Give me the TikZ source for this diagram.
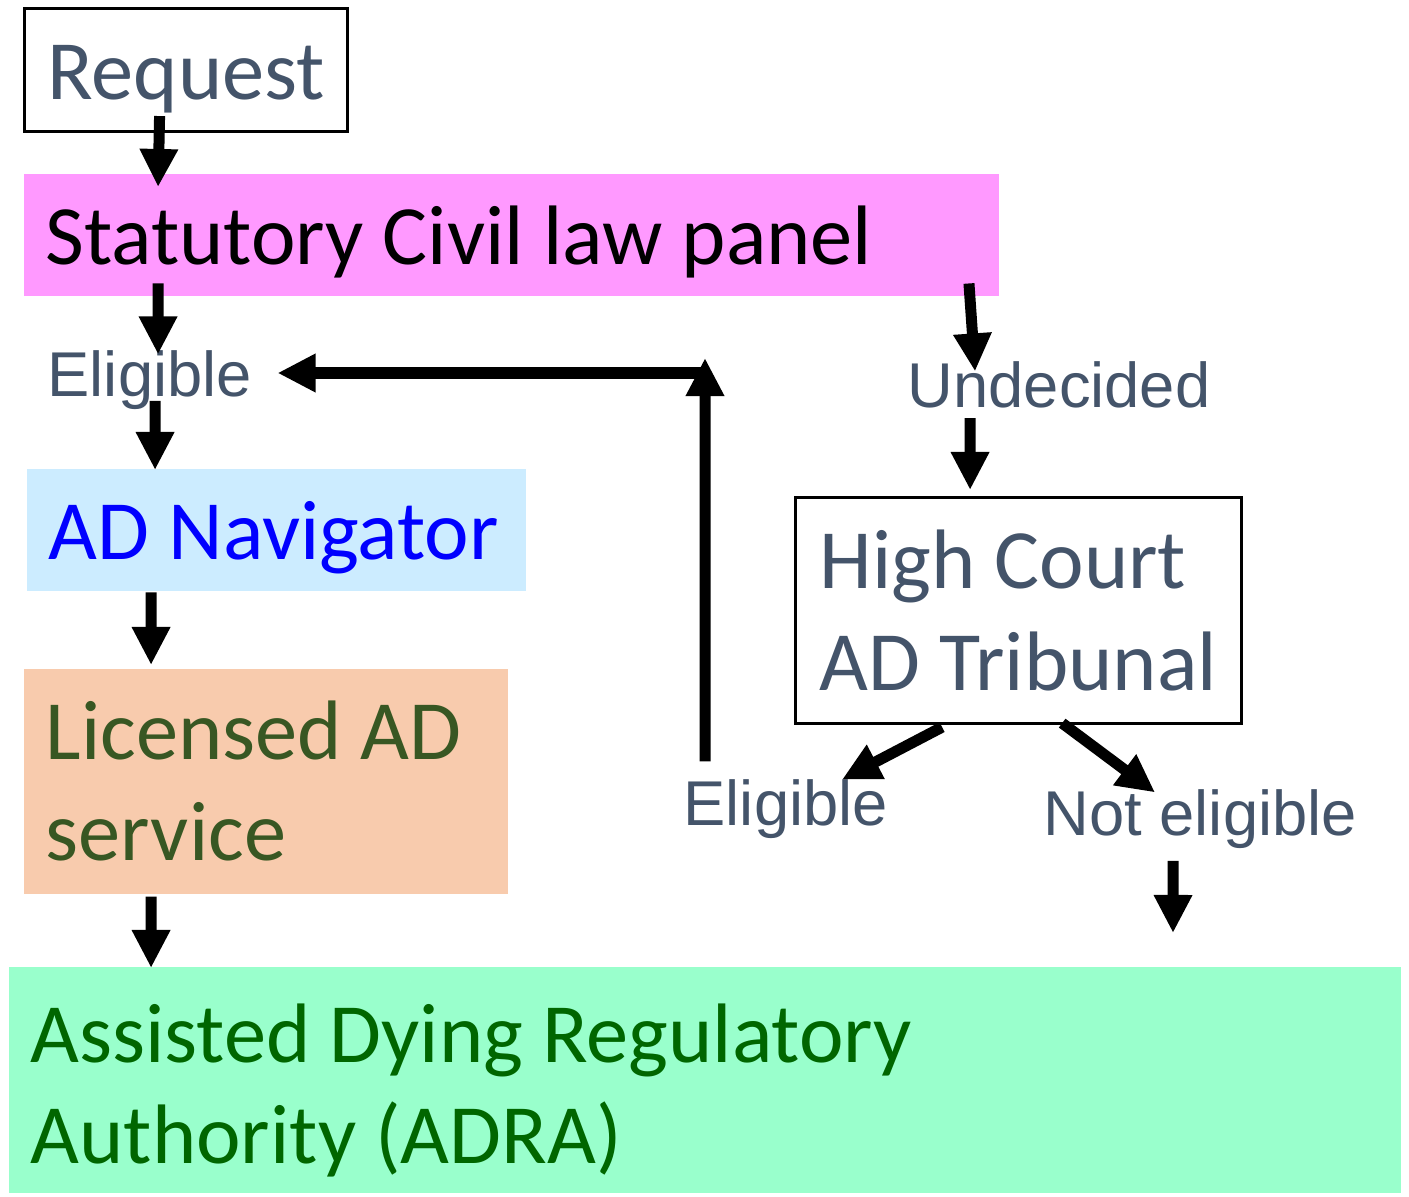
\documentclass[tikz,border=0pt]{standalone}
\usepackage{fontspec}
\setmainfont{Carlito}
\newfontfamily\labelfont{Liberation Sans}
\usepackage{tikz}
\usetikzlibrary{positioning,arrows.meta}
\definecolor{adGray}{HTML}{44546A}
\definecolor{adPink}{HTML}{FF99FF}
\definecolor{adBlueLt}{HTML}{CCECFF}
\definecolor{adBlue}{HTML}{0000FF}
\definecolor{adPeach}{HTML}{F8CBAD}
\definecolor{adOlive}{HTML}{385723}
\definecolor{adMint}{HTML}{99FFCC}
\definecolor{adGreen}{HTML}{006600}
\tikzset{
  boxnode/.style={rectangle, anchor=north west, inner xsep=0.22cm, inner ysep=0pt,
                  align=flush left, font=\fontsize{24}{28.8}\selectfont},
  oneline/.style={boxnode, text height=0.75cm, text depth=0.16cm},
  framebox/.style={draw, line width=0.03cm},
  lblnode/.style={inner sep=0pt, anchor=base west, text=adGray,
                  font=\labelfont\fontsize{18}{21.6}\selectfont},
  flowarrow/.style={-{Triangle[length=0.38cm,width=0.36cm]}, line width=0.11cm},
}

\begin{document}
\begin{tikzpicture}[x=0.01cm, y=0.01cm]
\useasboundingbox (0,0) rectangle (1409,1196);
%% Boxes
\node[oneline, framebox, text=adGray, align=center, text width=2.79cm, minimum height=1.23cm] (req) at (23,1189) {Request};
\node[oneline, fill=adPink, text width=9.31cm, minimum height=1.22cm] (panel) at (23,1023) {Statutory Civil law panel};
\node[oneline, fill=adBlueLt, text=adBlue, text width=4.55cm, minimum height=1.22cm] (nav) at (26,728) {AD~Navigator};
\node[boxnode, fill=adPeach, text=adOlive, text width=4.40cm, minimum height=2.25cm] (lic) at (23,528) {Licensed AD\\service};
\node[boxnode, fill=adMint, text=adGreen, text width=13.47cm, minimum height=2.26cm] (adra) at (8,230) {\rule{0pt}{0.80cm}Assisted Dying Regulatory\\Authority (ADRA)};
\node[boxnode, framebox, text=adGray, inner xsep=0.24cm, text width=3.98cm, minimum height=2.26cm] (court) at (794,700) {High Court\\AD Tribunal};
%% Labels
\node[lblnode] (elig) at (47,799) {Eligible};
\node[lblnode] (undec) at (907,788) {Undecided};
\node[lblnode] (eligct) at (683,371) {Eligible};
\node[lblnode] (noteli) at (1043,361) {Not eligible};
\coordinate (turn) at (705,823);
\coordinate (exit) at (1173,263);
%% Edges
\draw[flowarrow] ([xshift=-0.265cm,yshift=0.17cm]req.south) -- ([xshift=1.35cm,yshift=-0.14cm]panel.north west);
\draw[flowarrow] ([xshift=1.35cm,yshift=0.13cm]panel.south west) -- ([xshift=1.11cm,yshift=-0.04cm]elig.north west);
\draw[flowarrow] ([xshift=1.08cm,yshift=0.10cm]elig.south west) -- ([xshift=1.29cm,yshift=-0.02cm]nav.north west);
\draw[flowarrow] ([xshift=1.25cm,yshift=-0.01cm]nav.south west) -- ([xshift=1.28cm,yshift=0.03cm]lic.north west);
\draw[flowarrow] ([xshift=1.28cm,yshift=-0.02cm]lic.south west) -- ([xshift=1.43cm,yshift=-0.02cm]adra.north west);
\draw[flowarrow] ([xshift=-0.31cm,yshift=0.13cm]panel.south east) -- ([xshift=0.68cm,yshift=-0.10cm]undec.north west);
\draw[flowarrow] ([xshift=0.63cm,yshift=-0.10cm]undec.base west) -- ([xshift=1.76cm,yshift=0.06cm]court.north west);
\draw[flowarrow] ([xshift=1.48cm,yshift=-0.02cm]court.south west) -- ([xshift=1.59cm,yshift=-0.01cm]eligct.north west);
\draw[flowarrow] ([xshift=2.68cm,yshift=0.02cm]court.south west) -- ([xshift=1.12cm,yshift=-0.04cm]noteli.north west);
\draw[flowarrow] ([xshift=1.30cm,yshift=-0.12cm]noteli.south west) -- (exit);
%% Loop back to the panel's eligible branch
\draw[flowarrow] ([xshift=0.22cm,yshift=0.17cm]eligct.north west) -- ([yshift=0.15cm]turn);
\draw[flowarrow] (turn) -- ([xshift=0.25cm]elig.east |- turn);
\end{tikzpicture}
\end{document}
